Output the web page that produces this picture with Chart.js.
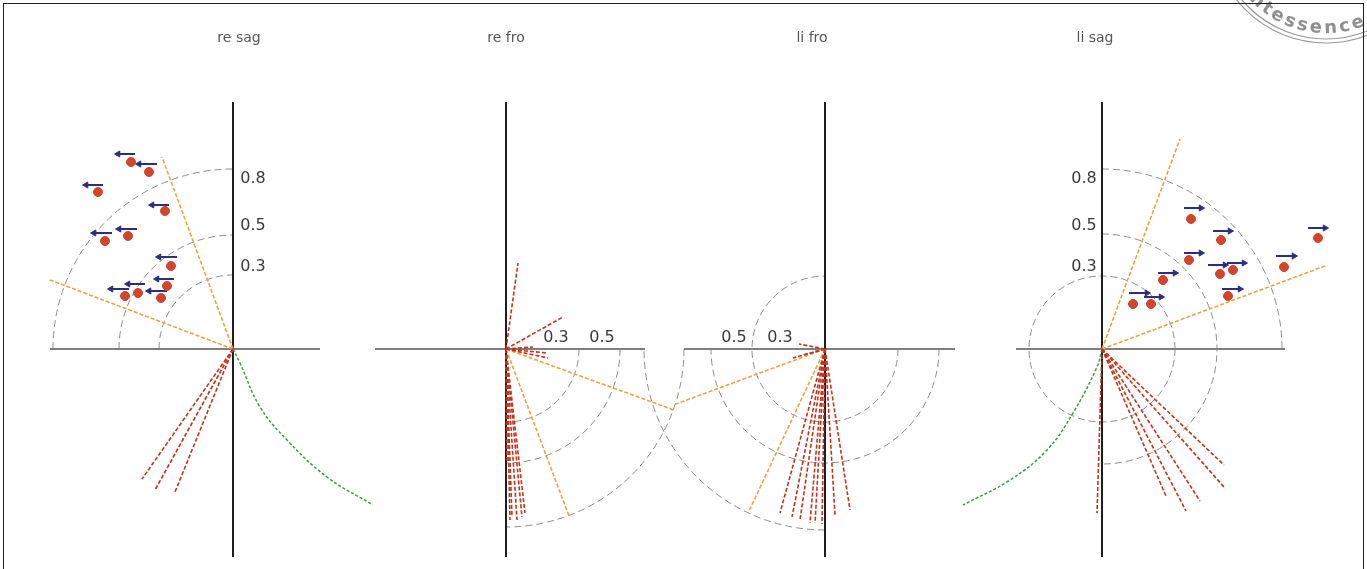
<!DOCTYPE html>
<html>
<head>
<meta charset="utf-8">
<script src="https://cdn.jsdelivr.net/npm/chart.js@4.4.1/dist/chart.umd.min.js"></script>
<style>
  html, body { margin: 0; padding: 0; background: #fff; }
  #wrap { position: relative; width: 1367px; height: 569px; overflow: hidden; }
  #frame { position: absolute; left: 3px; top: 3px; width: 1359px; height: 600px; border: 1px solid #222; pointer-events: none; }
</style>
</head>
<body>
<div id="wrap">
  <canvas id="chart"></canvas>
  <div id="frame"></div>
</div>
<script>
// Values are offsets from each diagram's origin: x to the right, y upwards.
const panelTitles = ['re sag', 're fro', 'li fro', 'li sag'];
const ringLabels = ['0.8', '0.5', '0.3'];
const froLabels = ['0.3', '0.5'];

// re sag
const reSagRadii = [180, 114, 74];
const reSagDotsX = [-102, -84, -135, -68, -128, -105, -62, -66, -72, -95, -108];
const reSagDotsY = [187, 177, 157, 138, 108, 113, 83, 63, 51, 56, 53];
const reSagArrowFrom = [-98, -76, -130, -64, -121, -96, -56, -59, -66, -88, -104];
const reSagArrowTo = [-115, -94, -147, -81, -139, -114, -74, -76, -84, -105, -122];
const reSagArrowY = [195, 185, 164, 144, 116, 120, 92, 70, 58, 65, 60];
const reSagOrangeX = [-71, -183];
const reSagOrangeY = [192, 69];
const reSagRedX = [-91, -78, -58];
const reSagRedY = [-130, -141, -143];
const reSagGreenX = [0, 7, 27, 54, 94, 140];
const reSagGreenY = [0, -14, -58, -91, -128, -156];
const reSagAxisX = [-183, 87];

// re fro
const reFroRadii = [178, 114, 73];
const reFroOrangeX = [168, 63];
const reFroOrangeY = [-61, -167];
const reFroRedX = [12, 57, 27, 41, 42, 1, 4, 6, 11, 16, 19];
const reFroRedY = [86, 32, 2, -4, -9, -114, -171, -168, -171, -168, -164];
const reFroAxisX = [-131, 139];

// li fro
const liFroRadii = [181, 114, 73];
const liFroOrangeX = [-149, -76];
const liFroOrangeY = [-55, -162];
const liFroRedX = [-45, -33, -25, -15, -10, -3, 10, 25, -26, -32, -22];
const liFroRedY = [-164, -168, -171, -174, -174, -175, -166, -161, 5, -9, -6];
const liFroAxisX = [-141, 130];

// li sag
const liSagRadii = [180, 115, 73];
const liSagDotsX = [89, 119, 87, 61, 118, 131, 126, 182, 216, 31, 49];
const liSagDotsY = [130, 109, 89, 69, 75, 79, 53, 82, 111, 45, 45];
const liSagArrowFrom = [82, 111, 82, 56, 106, 125, 120, 174, 206, 27, 42];
const liSagArrowTo = [99, 128, 99, 73, 123, 142, 138, 192, 223, 45, 59];
const liSagArrowY = [141, 118, 96, 76, 84, 86, 60, 93, 121, 56, 52];
const liSagOrangeX = [78, 223];
const liSagOrangeY = [210, 83];
const liSagRedX = [-5, 64, 84, 98, 122, 122];
const liSagRedY = [-164, -147, -162, -152, -138, -116];
const liSagGreenX = [0, -5, -29, -55, -92, -139];
const liSagGreenY = [0, -18, -64, -101, -131, -156];
const liSagAxisX = [-86, 183];

// layout
const panelOrigins = [233, 506, 825, 1102];
const titleShift = [6, 0, -13, -7];
const axisTop = 247, axisBottom = -208;
const Q = Math.PI / 2;
const ringRadii = [reSagRadii, reFroRadii, liFroRadii, liSagRadii];
const arcSpans = [
    [[2 * Q, 3 * Q], [2 * Q, 3 * Q], [2 * Q, 3 * Q]],
    [[0, Q], [0, Q], [0, Q]],
    [[Q, 2 * Q], [0, 2 * Q], [0, 3 * Q]],
    [[-Q, 0], [-Q, Q], [0, 4 * Q]]
];

const navy = '#2c2f7e';
const red = '#c4331d';
const orange = '#f0a23c';
const green = '#3d9c3d';
const dotRed = '#d2452c';

const datasets = [];

function addLine(points, color, width, dash, order, extra) {
    datasets.push(Object.assign({
        data: points,
        showLine: true,
        borderColor: color,
        backgroundColor: color,
        borderWidth: width,
        borderDash: dash,
        pointRadius: 0,
        tension: 0,
        order: order
    }, extra || {}));
}

function addFan(ox, xs, ys, color, order) {
    xs.forEach((x, i) => addLine([{x: ox, y: 0}, {x: ox + x, y: ys[i]}], color, 1.6, [4, 2], order));
}

function addArrows(ox, from, to, ys, rotation) {
    from.forEach((f, i) => addLine([{x: ox + f, y: ys[i]}, {x: ox + to[i], y: ys[i]}], navy, 2, [], 1, {
        pointRadius: [0, 3.5],
        pointStyle: 'triangle',
        pointRotation: rotation,
        pointBackgroundColor: navy,
        pointBorderColor: navy,
        pointBorderWidth: 1
    }));
}

function addDots(ox, xs, ys) {
    datasets.push({
        data: xs.map((x, i) => ({x: ox + x, y: ys[i]})),
        showLine: false,
        pointRadius: 4.5,
        pointBackgroundColor: dotRed,
        pointBorderColor: dotRed,
        order: 0
    });
}

function addAxes(ox, span) {
    addLine([{x: ox, y: axisTop}, {x: ox, y: axisBottom}], '#1e1e1e', 2, [], 6);
    addLine([{x: ox + span[0], y: 0}, {x: ox + span[1], y: 0}], '#7f7f7f', 2, [], 6);
}

function addCurve(ox, xs, ys) {
    addLine(xs.map((x, i) => ({x: ox + x, y: ys[i]})), green, 1.5, [3, 2], 3, {tension: 0.4});
}

const [o1, o2, o3, o4] = panelOrigins;

addDots(o1, reSagDotsX, reSagDotsY);
addArrows(o1, reSagArrowFrom, reSagArrowTo, reSagArrowY, -90);
addFan(o1, reSagOrangeX, reSagOrangeY, orange, 3);
addFan(o1, reSagRedX, reSagRedY, red, 2);
addCurve(o1, reSagGreenX, reSagGreenY);
addAxes(o1, reSagAxisX);

addFan(o2, reFroRedX, reFroRedY, red, 2);
addFan(o2, reFroOrangeX, reFroOrangeY, orange, 3);
addAxes(o2, reFroAxisX);

addFan(o3, liFroRedX, liFroRedY, red, 2);
addFan(o3, liFroOrangeX, liFroOrangeY, orange, 3);
addAxes(o3, liFroAxisX);

addDots(o4, liSagDotsX, liSagDotsY);
addArrows(o4, liSagArrowFrom, liSagArrowTo, liSagArrowY, 90);
addFan(o4, liSagOrangeX, liSagOrangeY, orange, 3);
addFan(o4, liSagRedX, liSagRedY, red, 2);
addCurve(o4, liSagGreenX, liSagGreenY);
addAxes(o4, liSagAxisX);

// rings, labels, titles and the publisher stamp
const figurePlugin = {
    id: 'figure',
    beforeDatasetsDraw(chart) {
        const {ctx, scales: {x, y}} = chart;
        ctx.save();
        ctx.strokeStyle = '#8c8c8c';
        ctx.lineWidth = 1;
        ctx.setLineDash([7, 4]);
        panelOrigins.forEach((ox, p) => {
            const cx = x.getPixelForValue(ox);
            const cy = y.getPixelForValue(0);
            ringRadii[p].forEach((r, k) => {
                const rp = x.getPixelForValue(ox + r) - cx;
                ctx.beginPath();
                ctx.arc(cx, cy, rp, arcSpans[p][k][0], arcSpans[p][k][1]);
                ctx.stroke();
            });
        });
        ctx.restore();
    },
    afterDatasetsDraw(chart) {
        const {ctx, scales: {x, y}} = chart;
        const font = '"DejaVu Sans", Verdana, sans-serif';
        ctx.save();
        ctx.textAlign = 'center';
        ctx.textBaseline = 'middle';

        ctx.fillStyle = '#555';
        ctx.font = '14px ' + font;
        panelTitles.forEach((t, p) => {
            ctx.fillText(t, x.getPixelForValue(panelOrigins[p] + titleShift[p]), y.getPixelForValue(311));
        });

        ctx.fillStyle = '#3a3a3a';
        ctx.font = '16px ' + font;
        const sagLabelY = [170, 123, 82];
        ringLabels.forEach((t, k) => {
            ctx.fillText(t, x.getPixelForValue(o1 + 20), y.getPixelForValue(sagLabelY[k]));
            ctx.fillText(t, x.getPixelForValue(o4 - 18), y.getPixelForValue(sagLabelY[k]));
        });
        const froLabelX = [50, 96];
        froLabels.forEach((t, k) => {
            ctx.fillText(t, x.getPixelForValue(o2 + froLabelX[k]), y.getPixelForValue(11));
            ctx.fillText(t, x.getPixelForValue(o3 - froLabelX[k] + 5), y.getPixelForValue(11));
        });
        ctx.restore();
    },
    afterDraw(chart) {
        const ctx = chart.ctx;
        const cx = 1326, cy = -71;
        ctx.save();
        ctx.strokeStyle = '#9a9a9a';
        ctx.lineWidth = 1.2;
        [114, 110].forEach(r => {
            ctx.beginPath();
            ctx.arc(cx, cy, r, 0, 2 * Math.PI);
            ctx.stroke();
        });
        ctx.fillStyle = '#8f8f8f';
        ctx.font = 'bold 18px "DejaVu Sans", sans-serif';
        ctx.textAlign = 'center';
        ctx.textBaseline = 'alphabetic';
        const word = 'Quintessence';
        const r = 90;
        const widths = word.split('').map(c => ctx.measureText(c).width + 1);
        const total = widths.reduce((a, b) => a + b, 0);
        let pos = 0.40 * r - total;
        word.split('').forEach((c, i) => {
            const th = (pos + widths[i] / 2) / r;
            pos += widths[i];
            ctx.save();
            ctx.translate(cx + r * Math.sin(th), cy + r * Math.cos(th));
            ctx.rotate(-th);
            ctx.fillText(c, 0, 14);
            ctx.restore();
        });
        ctx.restore();
    }
};

new Chart(document.getElementById('chart'), {
    type: 'scatter',
    data: { datasets: datasets },
    options: {
        responsive: true,
        maintainAspectRatio: false,
        animation: false,
        events: [],
        layout: { padding: 0, autoPadding: false },
        plugins: {
            legend: { display: false },
            tooltip: { enabled: false }
        },
        scales: {
            x: { type: 'linear', min: 0, max: 1367, display: false },
            y: { type: 'linear', min: -220, max: 349, display: false }
        }
    },
    plugins: [figurePlugin]
});
</script>
</body>
</html>
